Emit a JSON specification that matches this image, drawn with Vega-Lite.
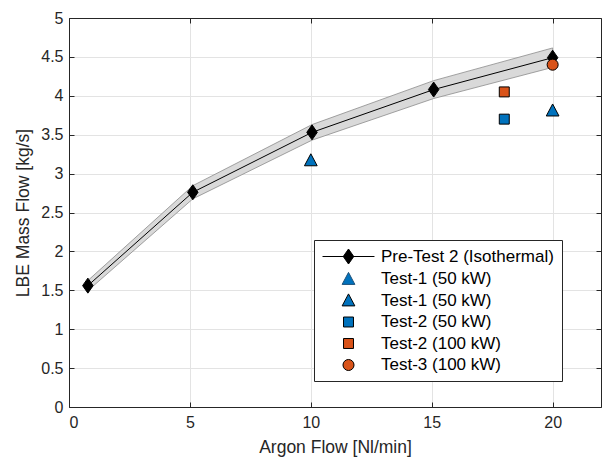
{
  "$schema": "https://vega.github.io/schema/vega-lite/v6.json",
  "width": 532,
  "height": 389,
  "autosize": {"type": "none"},
  "padding": {"left": 69, "top": 18, "right": 2, "bottom": 50},
  "background": "white",
  "config": {
    "font": "Liberation Sans",
    "view": {"stroke": null}
  },
  "datasets": {
    "pre": [
      {"x": 0.78, "y": 1.56, "lo": 1.495, "hi": 1.625},
      {"x": 5.12, "y": 2.76, "lo": 2.675, "hi": 2.845},
      {"x": 10.05, "y": 3.53, "lo": 3.43, "hi": 3.63},
      {"x": 15.08, "y": 4.08, "lo": 3.965, "hi": 4.195},
      {"x": 20.0, "y": 4.49, "lo": 4.365, "hi": 4.615}
    ],
    "tests": [
      {"s": "b", "x": 10.0, "y": 3.17},
      {"s": "b", "x": 20.0, "y": 3.81},
      {"s": "c", "x": 18.0, "y": 3.70},
      {"s": "d", "x": 18.0, "y": 4.05},
      {"s": "e", "x": 20.0, "y": 4.40}
    ]
  },
  "resolve": {"axis": {"x": "independent", "y": "independent"}},
  "layer": [
    {
      "data": {"name": "pre"},
      "mark": {"type": "area", "fill": "#d9d9d9", "stroke": "#8c8c8c", "strokeWidth": 0.8},
      "encoding": {
        "x": {
          "field": "x", "type": "quantitative",
          "scale": {"domain": [0, 22], "nice": false, "zero": false},
          "axis": {
            "orient": "bottom",
            "values": [0, 5, 10, 15, 20],
            "title": "Argon Flow [Nl/min]",
            "titleFontSize": 17.5, "titleFontWeight": "normal", "titleColor": "#262626", "titlePadding": 8,
            "labelFontSize": 16, "labelColor": "#262626", "labelPadding": 12,
            "tickSize": -5, "tickColor": "#262626", "domainColor": "#262626",
            "grid": true, "gridColor": "#e3e3e3", "gridWidth": 1
          }
        },
        "y": {
          "field": "lo", "type": "quantitative",
          "scale": {"domain": [0, 5], "nice": false, "zero": false},
          "axis": {
            "orient": "left",
            "values": [0, 0.5, 1, 1.5, 2, 2.5, 3, 3.5, 4, 4.5, 5],
            "format": "~g",
            "title": "LBE Mass Flow [kg/s]",
            "titleFontSize": 17.5, "titleFontWeight": "normal", "titleColor": "#262626", "titlePadding": 8,
            "labelFontSize": 16, "labelColor": "#262626", "labelPadding": 11,
            "tickSize": -5, "tickColor": "#262626", "domainColor": "#262626",
            "grid": true, "gridColor": "#e3e3e3", "gridWidth": 1
          }
        },
        "y2": {"field": "hi"}
      }
    },
    {
      "data": {"name": "pre"},
      "mark": {"type": "line", "color": "black", "strokeWidth": 1},
      "encoding": {
        "x": {"field": "x", "type": "quantitative", "axis": null},
        "y": {"field": "y", "type": "quantitative", "axis": null}
      }
    },
    {
      "data": {"name": "pre"},
      "mark": {"type": "point", "shape": "M0,-1.25L0.875,0L0,1.25L-0.875,0Z", "size": 144, "filled": true, "fill": "black", "stroke": "black", "strokeWidth": 1, "opacity": 1},
      "encoding": {
        "x": {"field": "x", "type": "quantitative", "axis": null},
        "y": {"field": "y", "type": "quantitative", "axis": null}
      }
    },
    {
      "data": {"name": "tests"},
      "mark": {"type": "point", "size": 144, "strokeWidth": 1, "opacity": 1, "fillOpacity": 1},
      "encoding": {
        "x": {
          "field": "x", "type": "quantitative",
          "axis": {"orient": "top", "values": [0, 5, 10, 15, 20], "labels": false, "title": null, "grid": false, "tickSize": -5, "tickColor": "#262626", "domainColor": "#262626"}
        },
        "y": {
          "field": "y", "type": "quantitative",
          "axis": {"orient": "right", "values": [0, 0.5, 1, 1.5, 2, 2.5, 3, 3.5, 4, 4.5, 5], "labels": false, "title": null, "grid": false, "tickSize": -5, "tickColor": "#262626", "domainColor": "#262626"}
        },
        "shape": {
          "field": "s", "type": "nominal",
          "scale": {
            "domain": ["p", "a", "b", "c", "d", "e"],
            "range": [
              "M-4.33,0H4.33M0,-1.25L0.875,0L0,1.25L-0.875,0Z",
              "M0,-1.1L1.06,0.9L-1.06,0.9Z",
              "M0,-1.1L1.06,0.9L-1.06,0.9Z",
              "M-0.83,-0.83H0.83V0.83H-0.83Z",
              "M-0.83,-0.83H0.83V0.83H-0.83Z",
              "M0.92,0A0.92,0.92,0,1,1,-0.92,0A0.92,0.92,0,1,1,0.92,0Z"
            ]
          },
          "legend": {
            "title": null, "orient": "none", "legendX": 245, "legendY": 222,
            "labelExpr": "{'p':'Pre-Test 2 (Isothermal)','a':'Test-1 (50 kW)','b':'Test-1 (50 kW)','c':'Test-2 (50 kW)','d':'Test-2 (100 kW)','e':'Test-3 (100 kW)'}[datum.value]",
            "labelFontSize": 17, "labelColor": "black", "labelOffset": 24, "symbolOffset": 18, "labelLimit": 400,
            "padding": 8, "rowPadding": 3.5, "strokeColor": "#262626", "fillColor": "white",
            "symbolSize": 144, "symbolStrokeWidth": 1
          }
        },
        "fill": {
          "field": "s", "type": "nominal",
          "scale": {"domain": ["p", "a", "b", "c", "d", "e"], "range": ["black", "#0072BD", "#0072BD", "#0072BD", "#D95319", "#D95319"]},
          "legend": {
            "title": null, "orient": "none", "legendX": 245, "legendY": 222,
            "labelExpr": "{'p':'Pre-Test 2 (Isothermal)','a':'Test-1 (50 kW)','b':'Test-1 (50 kW)','c':'Test-2 (50 kW)','d':'Test-2 (100 kW)','e':'Test-3 (100 kW)'}[datum.value]",
            "labelFontSize": 17, "labelColor": "black", "labelOffset": 24, "symbolOffset": 18, "labelLimit": 400,
            "padding": 8, "rowPadding": 3.5, "strokeColor": "#262626", "fillColor": "white",
            "symbolSize": 144, "symbolStrokeWidth": 1
          }
        },
        "stroke": {
          "field": "s", "type": "nominal",
          "scale": {"domain": ["p", "a", "b", "c", "d", "e"], "range": ["black", "#1c4f78", "black", "black", "black", "black"]},
          "legend": {
            "title": null, "orient": "none", "legendX": 245, "legendY": 222,
            "labelExpr": "{'p':'Pre-Test 2 (Isothermal)','a':'Test-1 (50 kW)','b':'Test-1 (50 kW)','c':'Test-2 (50 kW)','d':'Test-2 (100 kW)','e':'Test-3 (100 kW)'}[datum.value]",
            "labelFontSize": 17, "labelColor": "black", "labelOffset": 24, "symbolOffset": 18, "labelLimit": 400,
            "padding": 8, "rowPadding": 3.5, "strokeColor": "#262626", "fillColor": "white",
            "symbolSize": 144, "symbolStrokeWidth": 1
          }
        }
      }
    }
  ]
}
